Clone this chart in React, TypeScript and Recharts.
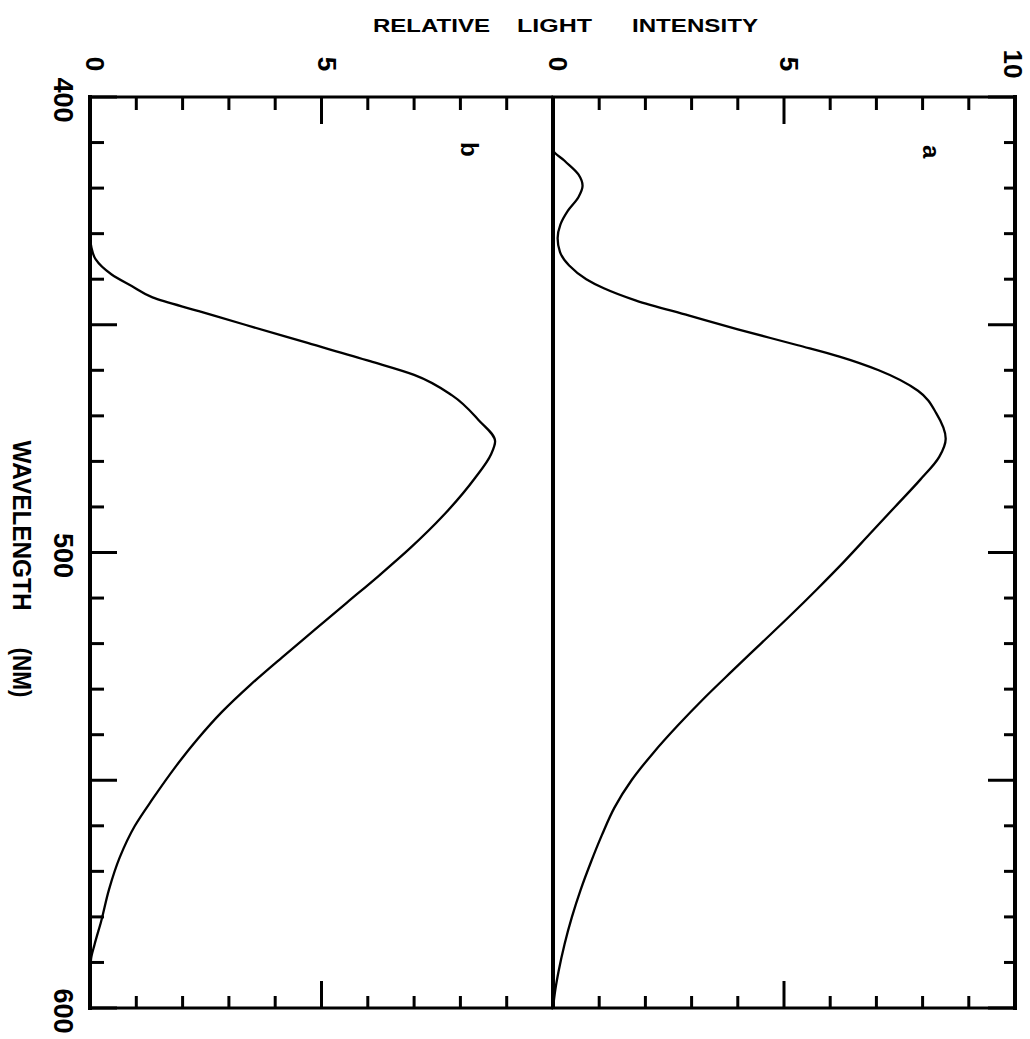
import React from 'react'
import { LineChart, Line, XAxis, YAxis, ReferenceLine, ReferenceDot, Label } from 'recharts'

// panel a (right) — wavelength (nm) / relative intensity
const wavelengthA = [
  400, 411.5, 414, 417, 419.5, 422, 425, 428, 431, 434, 437, 440, 442, 444.7,
  448, 451, 454.5, 457, 460, 464.5, 469.5, 475, 479, 484, 490, 496, 502, 508,
  514, 520, 526, 532, 538, 544, 550, 556, 562, 568, 574, 580, 586, 592, 596, 600,
]
const intensityA = [
  0, 0, 0.25, 0.55, 0.64, 0.55, 0.32, 0.16, 0.1, 0.15, 0.35, 0.72, 1.1, 1.8,
  2.95, 4.0, 5.3, 6.2, 7.05, 7.9, 8.3, 8.5, 8.36, 7.95, 7.4, 6.85, 6.3, 5.72,
  5.12, 4.5, 3.88, 3.27, 2.7, 2.17, 1.7, 1.33, 1.06, 0.82, 0.6, 0.41, 0.25, 0.12, 0.05, 0,
]

// panel b (left)
const wavelengthB = [
  400, 430.5, 433, 435.6, 438.9, 441.5, 444, 447, 450, 454, 458, 461, 465.5,
  470.9, 475.6, 478.5, 483.6, 492, 499, 505, 511, 517, 523, 529, 535, 541,
  547, 554, 560, 567, 574, 581, 586, 589.5, 595, 600,
]
const intensityB = [
  0, 0, 0.03, 0.12, 0.46, 0.9, 1.35, 2.35, 3.35, 4.7, 6.05, 7.0, 7.82,
  8.39, 8.75, 8.66, 8.32, 7.62, 6.92, 6.25, 5.55, 4.85, 4.15, 3.47, 2.85, 2.32,
  1.85, 1.36, 0.97, 0.64, 0.41, 0.24, 0.1, 0.02, 0, 0,
]

const intensityTicks = [0, 1, 2, 3, 4, 5, 6, 7, 8, 9, 10]
const wavelengthTicks = [
  400, 410, 420, 430, 440, 450, 460, 470, 480, 490, 500,
  510, 520, 530, 540, 550, 560, 570, 580, 590, 600,
]
const topLabelsB = [0, 5]
const topLabelsA = [0, 5, 10]
const wavelengthLabels = [400, 500, 600]

const dataA = wavelengthA.map((wl, i) => ({ wl, v: intensityA[i] }))
const dataB = wavelengthB.map((wl, i) => ({ wl, v: intensityB[i] }))

const FONT = "'Liberation Sans', Arial, Helvetica, sans-serif"
const H = 1039
const frameLine = { stroke: '#000', strokeWidth: 3, strokeLinecap: 'square' as const }

function rotText(x: number, y: number, v: React.ReactNode, size: number) {
  return (
    <text
      x={x}
      y={y}
      transform={`rotate(90 ${x} ${y})`}
      textAnchor="middle"
      dominantBaseline="central"
      fontFamily={FONT}
      fontWeight={700}
      fontSize={size}
      fill="#000"
    >
      {v}
    </text>
  )
}

function TopTick(props: any) {
  const { x, y, payload, labels, maxX } = props
  const v = payload.value
  const len = v % 5 === 0 ? 27 : 13
  return (
    <g>
      <line x1={x} x2={x} y1={y} y2={y + len} stroke="#000" strokeWidth={3} />
      {labels.includes(v) && rotText(Math.min(x + 5, maxX), y - 33, v, 26)}
    </g>
  )
}

function BottomTick(props: any) {
  const { x, y, payload } = props
  const len = payload.value % 5 === 0 ? 27 : 12
  return <line x1={x} x2={x} y1={y} y2={y - len} stroke="#000" strokeWidth={3} />
}

function LeftTick(props: any) {
  const { x, y, payload } = props
  const v = payload.value
  const len = v % 50 === 0 ? 27 : 14
  return (
    <g>
      <line x1={x} x2={x + len} y1={y} y2={y} stroke="#000" strokeWidth={3} />
      {wavelengthLabels.includes(v) && rotText(x - 27, y + 3, v, 27)}
    </g>
  )
}

function RightTick(props: any) {
  const { x, y, payload } = props
  const len = payload.value % 50 === 0 ? 27 : 11
  return <line x1={x} x2={x - len} y1={y} y2={y} stroke="#000" strokeWidth={3} />
}

function WavelengthLabel(props: any) {
  const vb = props.viewBox
  const x = vb.x + 22
  const cy = vb.y + vb.height / 2
  return (
    <g fontFamily={FONT} fontWeight={700} fontSize={25} fill="#000">
      <text x={x} y={cy - 27} transform={`rotate(90 ${x} ${cy - 27})`} textAnchor="middle"
        dominantBaseline="central" textLength={170} lengthAdjust="spacingAndGlyphs">WAVELENGTH</text>
      <text x={x} y={cy + 120} transform={`rotate(90 ${x} ${cy + 120})`} textAnchor="middle"
        dominantBaseline="central" textLength={50} lengthAdjust="spacingAndGlyphs">(NM)</text>
    </g>
  )
}

const panelLabel = (text: string) => ({
  value: text, position: 'center' as const, angle: 90,
  fontSize: 24, fontWeight: 700, fill: '#000', fontFamily: FONT,
})

const RIGHT_LEFT = 520
const RIGHT_W = 1030 - RIGHT_LEFT

export default function App() {
  return (
    <div style={{ position: 'absolute', left: 0, top: 0, width: 1030, height: H, background: '#fff' }}>
      <svg width={1030} height={40} style={{ position: 'absolute', left: 0, top: 0 }}>
        <g fontFamily={FONT} fontWeight={700} fontSize={19} fill="#000">
          <text x={373} y={32} textLength={117} lengthAdjust="spacingAndGlyphs">RELATIVE</text>
          <text x={517} y={32} textLength={75} lengthAdjust="spacingAndGlyphs">LIGHT</text>
          <text x={632} y={32} textLength={126} lengthAdjust="spacingAndGlyphs">INTENSITY</text>
        </g>
      </svg>

      {/* panel b */}
      <div style={{ position: 'absolute', left: 0, top: 0 }}>
        <LineChart width={553} height={H} data={dataB} layout="vertical"
          margin={{ top: 0, right: 0, bottom: 0, left: 0 }}>
          <XAxis xAxisId="top" orientation="top" type="number" domain={[0, 10]} allowDataOverflow
            ticks={intensityTicks} interval={0} height={97} tickLine={false} tickSize={0} tickMargin={0}
            axisLine={frameLine} tick={(p: any) => <TopTick {...p} labels={topLabelsB} maxX={540} />} />
          <XAxis xAxisId="bottom" orientation="bottom" type="number" domain={[0, 10]} allowDataOverflow
            ticks={intensityTicks} interval={0} height={31} tickLine={false} tickSize={0} tickMargin={0}
            axisLine={frameLine} tick={(p: any) => <BottomTick {...p} />} />
          <YAxis yAxisId="wl" orientation="left" type="number" dataKey="wl" domain={[400, 600]} allowDataOverflow
            ticks={wavelengthTicks} interval={0} width={90} tickLine={false} tickSize={0} tickMargin={0}
            axisLine={{ ...frameLine, strokeWidth: 4 }} tick={(p: any) => <LeftTick {...p} />}>
            <Label content={(p: any) => <WavelengthLabel {...p} />} />
          </YAxis>
          <ReferenceDot xAxisId="top" yAxisId="wl" x={8.2} y={411.5} r={1} fill="none" stroke="none"
            label={panelLabel('b')} />
          <Line xAxisId="top" yAxisId="wl" dataKey="v" type="monotone" stroke="#000" strokeWidth={2.3}
            dot={false} isAnimationActive={false} />
        </LineChart>
      </div>

      {/* panel a */}
      <div style={{ position: 'absolute', left: RIGHT_LEFT, top: 0 }}>
        <LineChart width={RIGHT_W} height={H} data={dataA} layout="vertical"
          margin={{ top: 0, right: 0, bottom: 0, left: 553 - RIGHT_LEFT }}>
          <XAxis xAxisId="top" orientation="top" type="number" domain={[0, 10]} allowDataOverflow
            ticks={intensityTicks} interval={0} height={97} tickLine={false} tickSize={0} tickMargin={0}
            axisLine={frameLine} tick={(p: any) => <TopTick {...p} labels={topLabelsA} maxX={RIGHT_W - 17} />} />
          <XAxis xAxisId="bottom" orientation="bottom" type="number" domain={[0, 10]} allowDataOverflow
            ticks={intensityTicks} interval={0} height={31} tickLine={false} tickSize={0} tickMargin={0}
            axisLine={frameLine} tick={(p: any) => <BottomTick {...p} />} />
          <YAxis yAxisId="wl" orientation="right" type="number" dataKey="wl" domain={[400, 600]} allowDataOverflow
            ticks={wavelengthTicks} interval={0} width={15} tickLine={false} tickSize={0} tickMargin={0}
            axisLine={{ ...frameLine, strokeWidth: 4 }} tick={(p: any) => <RightTick {...p} />} />
          <ReferenceLine xAxisId="top" yAxisId="wl" x={0} stroke="#000" strokeWidth={4} />
          <ReferenceDot xAxisId="top" yAxisId="wl" x={8.2} y={412} r={1} fill="none" stroke="none"
            label={panelLabel('a')} />
          <Line xAxisId="top" yAxisId="wl" dataKey="v" type="monotone" stroke="#000" strokeWidth={2.3}
            dot={false} isAnimationActive={false} />
        </LineChart>
      </div>
    </div>
  )
}
